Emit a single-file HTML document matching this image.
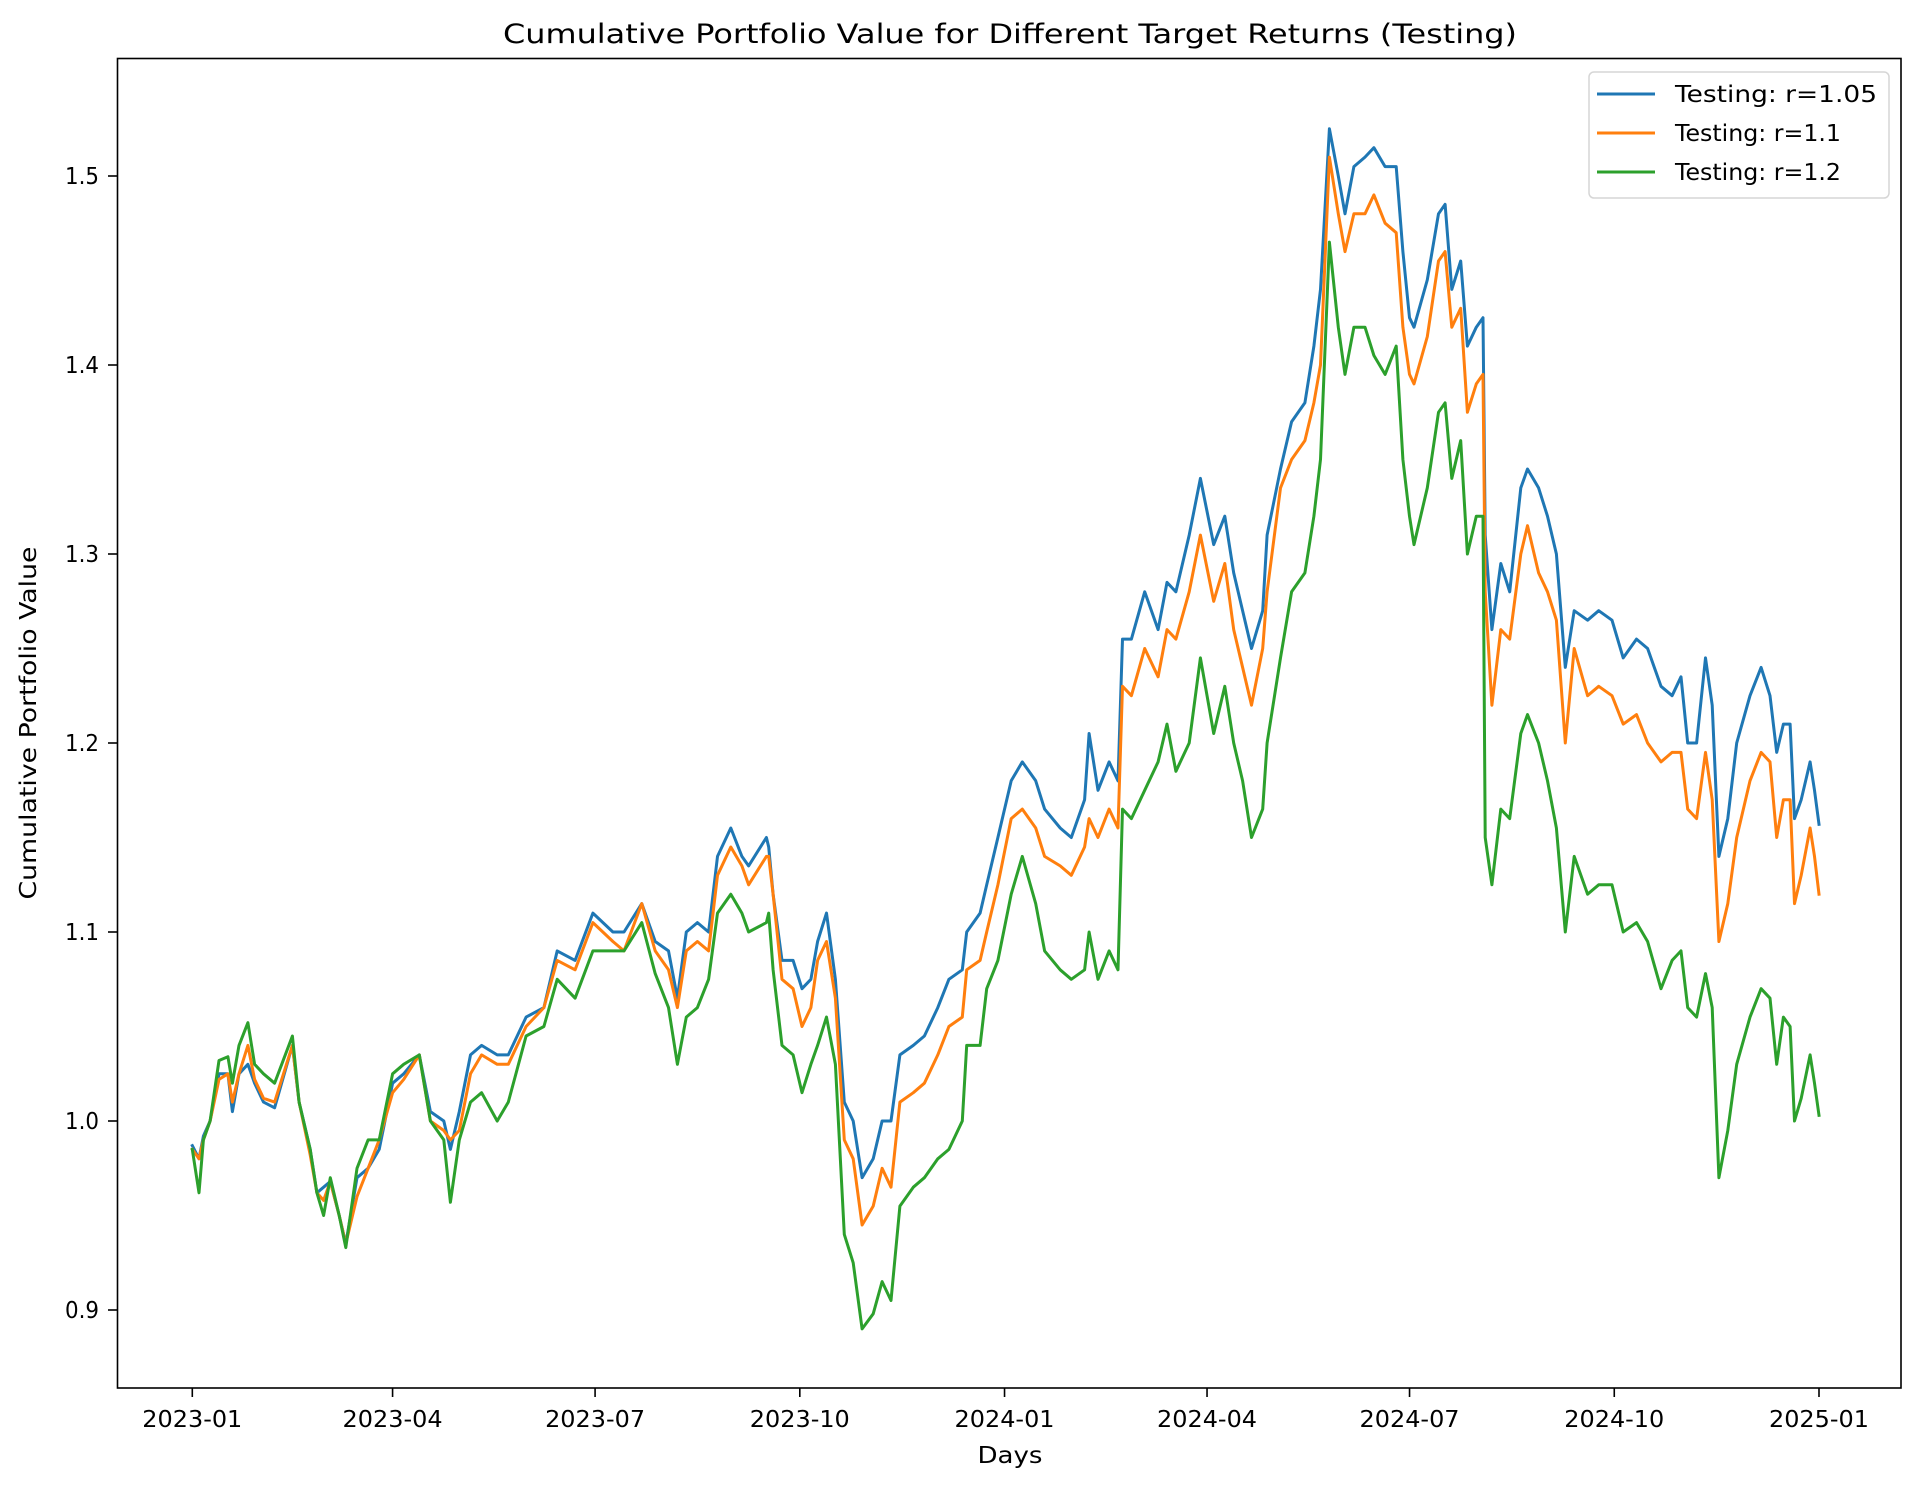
<!DOCTYPE html>
<html><head><meta charset="utf-8"><style>
body{margin:0;background:#fff}
svg{display:block;font-family:"DejaVu Sans","Liberation Sans",sans-serif}
</style></head><body>
<svg id="chart" width="1921" height="1490" viewBox="0 0 1921 1490" xmlns="http://www.w3.org/2000/svg">
<rect width="1921" height="1490" fill="#fff"/>
<text x="1010" y="43" font-size="27" text-anchor="middle" textLength="1014" lengthAdjust="spacingAndGlyphs">Cumulative Portfolio Value for Different Target Returns (Testing)</text>
<text x="1010" y="1463" font-size="23" text-anchor="middle" textLength="65" lengthAdjust="spacingAndGlyphs">Days</text>
<text x="36" y="723" font-size="23" text-anchor="middle" transform="rotate(-90 36 723)" textLength="353" lengthAdjust="spacingAndGlyphs">Cumulative Portfolio Value</text>
<g id="series"></g>
<g id="axes"></g>
<rect x="117.5" y="58.5" width="1783.5" height="1329.5" fill="none" stroke="#000" stroke-width="1.6"/>
<g>
<rect x="1589" y="72" width="300" height="126" rx="5" fill="#fff" fill-opacity="0.8" stroke="#d6d6d6" stroke-width="1.5"/>
<line x1="1597" y1="94" x2="1655" y2="94" stroke="#1f77b4" stroke-width="3"/>
<text x="1675" y="102" font-size="23" textLength="202" lengthAdjust="spacingAndGlyphs">Testing: r=1.05</text>
<line x1="1597" y1="133" x2="1655" y2="133" stroke="#ff7f0e" stroke-width="3"/>
<text x="1675" y="141" font-size="23" textLength="166" lengthAdjust="spacingAndGlyphs">Testing: r=1.1</text>
<line x1="1597" y1="172" x2="1655" y2="172" stroke="#2ca02c" stroke-width="3"/>
<text x="1675" y="180" font-size="23" textLength="166" lengthAdjust="spacingAndGlyphs">Testing: r=1.2</text>
</g>
</svg>
<script>
const days=[0,3,5,8,12,16,18,21,25,28,32,37,45,48,53,56,59,62,66,69,74,79,84,90,95,102,107,113,116,120,125,130,137,142,150,158,164,172,180,189,194,202,208,214,218,222,227,232,236,242,247,250,258,259,261,265,270,274,278,281,285,289,293,297,301,306,310,314,318,324,329,335,340,346,348,354,357,362,368,373,379,383,390,395,401,403,407,412,416,418,422,428,434,438,442,448,453,459,464,468,472,476,481,483,489,494,500,504,507,511,515,518,522,527,531,536,541,544,547,549,555,560,563,566,570,573,577,580,581,584,588,592,597,600,605,609,613,617,621,627,632,638,643,649,654,660,665,669,672,676,680,683,686,690,694,700,705,709,712,715,718,720,723,727,729,731];
const seriesR105=[0.987,0.98,0.992,1.0,1.025,1.025,1.005,1.025,1.03,1.02,1.01,1.007,1.04,1.01,0.985,0.962,0.965,0.968,0.95,0.935,0.97,0.975,0.985,1.02,1.025,1.035,1.005,1.0,0.985,1.005,1.035,1.04,1.035,1.035,1.055,1.06,1.09,1.085,1.11,1.1,1.1,1.115,1.095,1.09,1.065,1.1,1.105,1.1,1.14,1.155,1.14,1.135,1.15,1.145,1.12,1.085,1.085,1.07,1.075,1.095,1.11,1.075,1.01,1.0,0.97,0.98,1.0,1.0,1.035,1.04,1.045,1.06,1.075,1.08,1.1,1.11,1.125,1.15,1.18,1.19,1.18,1.165,1.155,1.15,1.17,1.205,1.175,1.19,1.18,1.255,1.255,1.28,1.26,1.285,1.28,1.31,1.34,1.305,1.32,1.29,1.27,1.25,1.27,1.31,1.345,1.37,1.38,1.41,1.44,1.525,1.5,1.48,1.505,1.51,1.515,1.505,1.505,1.46,1.425,1.42,1.445,1.48,1.485,1.44,1.455,1.41,1.42,1.425,1.31,1.26,1.295,1.28,1.335,1.345,1.335,1.32,1.3,1.24,1.27,1.265,1.27,1.265,1.245,1.255,1.25,1.23,1.225,1.235,1.2,1.2,1.245,1.22,1.14,1.16,1.2,1.225,1.24,1.225,1.195,1.21,1.21,1.16,1.17,1.19,1.175,1.157];
const seriesR11=[0.985,0.98,0.99,1.0,1.022,1.025,1.01,1.025,1.04,1.022,1.012,1.01,1.04,1.01,0.982,0.962,0.958,0.968,0.95,0.935,0.96,0.975,0.99,1.015,1.022,1.035,1.0,0.995,0.99,0.995,1.025,1.035,1.03,1.03,1.05,1.06,1.085,1.08,1.105,1.095,1.09,1.115,1.09,1.08,1.06,1.09,1.095,1.09,1.13,1.145,1.135,1.125,1.14,1.14,1.12,1.075,1.07,1.05,1.06,1.085,1.095,1.065,0.99,0.98,0.945,0.955,0.975,0.965,1.01,1.015,1.02,1.035,1.05,1.055,1.08,1.085,1.1,1.125,1.16,1.165,1.155,1.14,1.135,1.13,1.145,1.16,1.15,1.165,1.155,1.23,1.225,1.25,1.235,1.26,1.255,1.28,1.31,1.275,1.295,1.26,1.24,1.22,1.25,1.28,1.335,1.35,1.36,1.38,1.4,1.51,1.48,1.46,1.48,1.48,1.49,1.475,1.47,1.42,1.395,1.39,1.415,1.455,1.46,1.42,1.43,1.375,1.39,1.395,1.28,1.22,1.26,1.255,1.3,1.315,1.29,1.28,1.265,1.2,1.25,1.225,1.23,1.225,1.21,1.215,1.2,1.19,1.195,1.195,1.165,1.16,1.195,1.17,1.095,1.115,1.15,1.18,1.195,1.19,1.15,1.17,1.17,1.115,1.13,1.155,1.14,1.12];
const seriesR12=[0.985,0.962,0.99,1.0,1.032,1.034,1.02,1.04,1.052,1.03,1.025,1.02,1.045,1.01,0.985,0.962,0.95,0.97,0.95,0.933,0.975,0.99,0.99,1.025,1.03,1.035,1.0,0.99,0.957,0.99,1.01,1.015,1.0,1.01,1.045,1.05,1.075,1.065,1.09,1.09,1.09,1.105,1.078,1.06,1.03,1.055,1.06,1.075,1.11,1.12,1.11,1.1,1.105,1.11,1.08,1.04,1.035,1.015,1.03,1.04,1.055,1.03,0.94,0.925,0.89,0.898,0.915,0.905,0.955,0.965,0.97,0.98,0.985,1.0,1.04,1.04,1.07,1.085,1.12,1.14,1.115,1.09,1.08,1.075,1.08,1.1,1.075,1.09,1.08,1.165,1.16,1.175,1.19,1.21,1.185,1.2,1.245,1.205,1.23,1.2,1.18,1.15,1.165,1.2,1.245,1.28,1.29,1.32,1.35,1.465,1.42,1.395,1.42,1.42,1.405,1.395,1.41,1.35,1.32,1.305,1.335,1.375,1.38,1.34,1.36,1.3,1.32,1.32,1.15,1.125,1.165,1.16,1.205,1.215,1.2,1.18,1.155,1.1,1.14,1.12,1.125,1.125,1.1,1.105,1.095,1.07,1.085,1.09,1.06,1.055,1.078,1.06,0.97,0.995,1.03,1.055,1.07,1.065,1.03,1.055,1.05,1.0,1.012,1.035,1.02,1.003];
const xTickLabels=["2023-01","2023-04","2023-07","2023-10","2024-01","2024-04","2024-07","2024-10","2025-01"];
const xTickDays=[0,90,181,273,365,456,547,639,731];
const yTicks=[0.9,1.0,1.1,1.2,1.3,1.4,1.5];
const X0=192.3,PXD=2.2253;
function xs(d){return X0+d*PXD;}
function ys(v){return 1121-(v-1)*1890;}
const NS="http://www.w3.org/2000/svg";
const sg=document.getElementById('series'),ax=document.getElementById('axes');
function mk(t,a,p){const e=document.createElementNS(NS,t);for(const k in a)e.setAttribute(k,a[k]);p.appendChild(e);return e;}
[[seriesR105,'#1f77b4','line-r105'],[seriesR11,'#ff7f0e','line-r11'],[seriesR12,'#2ca02c','line-r12']].forEach(([s,c,n])=>{
 const pts=s.map((v,i)=>xs(days[i]).toFixed(1)+','+ys(v).toFixed(1)).join(' ');
 const pl=mk('polyline',{points:pts,fill:'none',stroke:c,'stroke-width':3,'stroke-linejoin':'round','stroke-linecap':'square'},sg);
 
 
});
xTickLabels.forEach((l,i)=>{
 const x=xs(xTickDays[i]);
 mk('line',{x1:x,y1:1388,x2:x,y2:1397,stroke:'#000','stroke-width':1.6},ax);
 const t=mk('text',{x:x,y:1427,'font-size':23,'text-anchor':'middle',textLength:100,lengthAdjust:'spacingAndGlyphs'},ax);
 t.textContent=l;
 
 
});
yTicks.forEach(v=>{
 const y=ys(v);
 mk('line',{x1:108,y1:y,x2:117.5,y2:y,stroke:'#000','stroke-width':1.6},ax);
 const t=mk('text',{x:99,y:y+8,'font-size':23,'text-anchor':'end',textLength:34,lengthAdjust:'spacingAndGlyphs'},ax);
 t.textContent=v.toFixed(1);
 
 
});
</script>
</body></html>
